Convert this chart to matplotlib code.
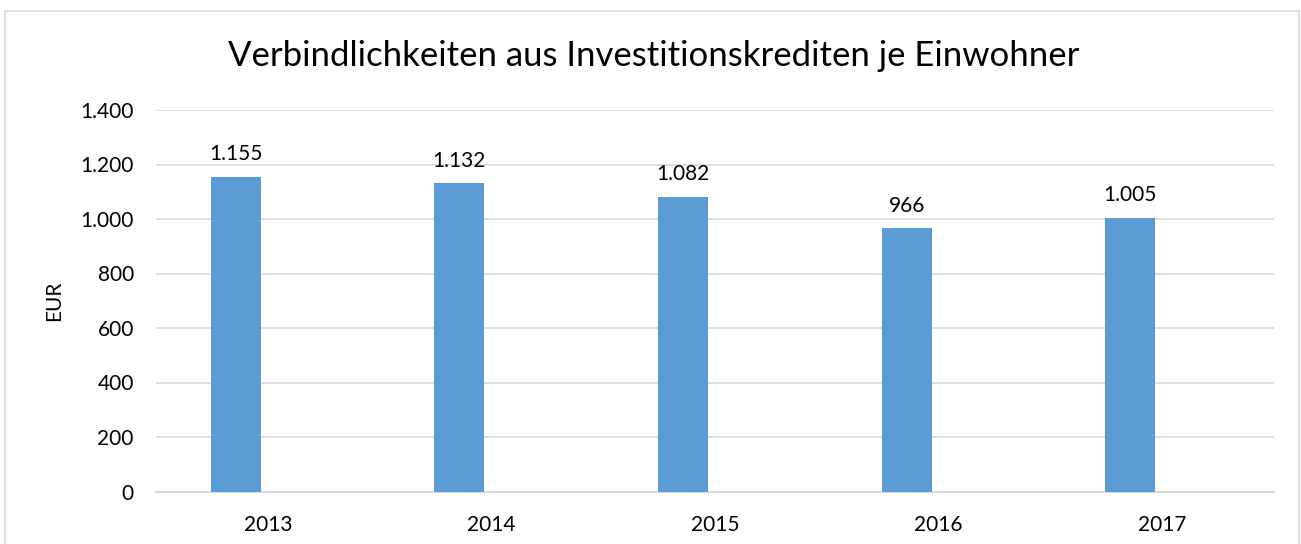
import matplotlib
matplotlib.use("Agg")
import matplotlib.pyplot as plt
from matplotlib.patches import Rectangle
from matplotlib.ticker import FuncFormatter

years = ["2013", "2014", "2015", "2016", "2017"]
values = [1155, 1132, 1082, 966, 1005]
title = "Verbindlichkeiten aus Investitionskrediten je Einwohner"
ylabel = "EUR"

plt.rcParams['font.family'] = ['Lato', 'DejaVu Sans']

W, H = 1301, 544
fig = plt.figure(figsize=(W / 100, H / 100), dpi=100)
ax = fig.add_axes([156 / W, 1 - 491.5 / H, (1274 - 156) / W, (491.5 - 110) / H])

x = list(range(len(years)))
offset = -0.143
width = 0.224
bars = ax.bar([i + offset for i in x], values, width=width, color="#5b9bd5", zorder=3)

def fmt(v, pos=None):
    return f"{int(v):,}".replace(",", ".")

for b, v in zip(bars, values):
    ax.text(b.get_x() + b.get_width() / 2, v + 45, fmt(v), ha="center", va="bottom",
            fontsize=15, color="#000000")

ax.set_xlim(-0.5, len(years) - 0.5)
ax.set_ylim(0, 1400)
ax.set_yticks(range(0, 1401, 200))
ax.yaxis.set_major_formatter(FuncFormatter(fmt))
ax.set_xticks(x)
ax.set_xticklabels(years)
ax.grid(axis="y", color="#d9d9d9", linewidth=1.2, zorder=0)
for s in ["top", "right", "left"]:
    ax.spines[s].set_visible(False)
ax.spines["bottom"].set_color("#d9d9d9")
ax.spines["bottom"].set_linewidth(1.5)
ax.tick_params(axis="both", length=0, labelsize=15, colors="#000000")
ax.tick_params(axis="y", pad=16)
ax.tick_params(axis="x", pad=17)
ax.set_ylabel(ylabel, fontsize=15, labelpad=12)

fig.text(654 / W, 1 - 56 / H, title, ha="center", va="center", fontsize=25, color="#000000")

fig.patches.append(Rectangle((5 / W, -0.05), (1299 - 5) / W, 1.05 - 11 / H,
                             transform=fig.transFigure, fill=False,
                             edgecolor="#d9d9d9", linewidth=1.2))

fig.savefig("out.png", dpi=100)
